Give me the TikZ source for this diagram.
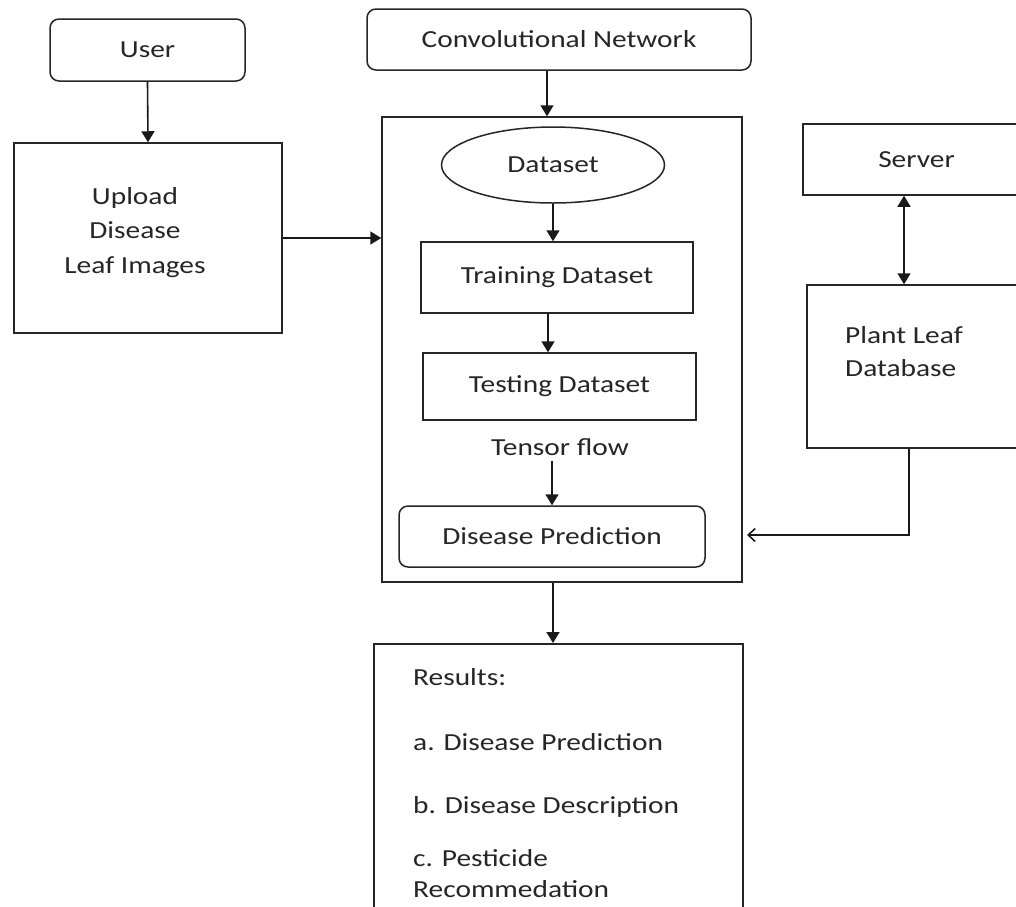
\documentclass[tikz,border=0pt]{standalone}
\usepackage{fontspec}
\setmainfont[FakeStretch=1.2]{Carlito}
\usetikzlibrary{arrows.meta,shapes.geometric}
\begin{document}
\begin{tikzpicture}[x=1pt,y=-1pt,
  every node/.style={font=\fontsize{24.5}{33}\selectfont, text=black!85},
  box/.style={draw=black!85,line width=1.5pt,inner sep=0pt,align=center},
  rbox/.style={box,rounded corners=9pt},
  txt/.style={inner sep=0pt},
  arr/.style={line width=1.6pt,draw=black!90,-{Triangle[width=13pt,length=11pt]}},
  darr/.style={line width=1.6pt,draw=black!90,{Triangle[width=13pt,length=11pt]}-{Triangle[width=13pt,length=11pt]}},
  oarr/.style={line width=1.6pt,draw=black!90,-{Straight Barb[length=7pt,width=13pt]}}]
\useasboundingbox (0,0) rectangle (1016,906);
\fill[white] (0,0) rectangle (1016,906);
\clip (0,0) rectangle (1016,906);

% left column
\node[rbox, minimum width=195pt, minimum height=62pt] (user) at (147.5,50) {User};
\node[box, minimum width=268pt, minimum height=190pt] (upload) at (148,238) {};
\node[txt,anchor=base] (up1) at (135,204) {Upload};
\node[txt,anchor=base] (up2) at (135,238) {Disease};
\node[txt,anchor=base] (up3) at (135,273) {Leaf Images};

% centre column
\node[rbox, minimum width=384pt, minimum height=61pt] (conv) at (559,39.5) {Convolutional Network};
\node[box, minimum width=360pt, minimum height=465pt] (cnn) at (562,349.5) {};
\node[draw=black!85, line width=1.5pt, ellipse, inner sep=0pt, minimum width=223pt, minimum height=76pt] (ds) at (553,165) {Dataset};
\node[box, minimum width=272pt, minimum height=71pt] (train) at (557,277.5) {Training Dataset};
\node[box, minimum width=273pt, minimum height=67pt] (test) at (559.5,386.5) {Testing Dataset};
\node[txt] (tf) at (560,447) {Tensor flow};
\node[rbox, minimum width=306pt, minimum height=61pt] (pred) at (552,536.5) {Disease Prediction};

% results
\node[box, minimum width=369pt, minimum height=330pt, anchor=north] (res) at (558.5,643) {};
\node[txt,anchor=base west] (r0) at (413,685) {Results:};
\node[txt,anchor=base west] (r1) at (413,750) {a. Disease Prediction};
\node[txt,anchor=base west] (r2) at (413,813) {b. Disease Description};
\node[txt,anchor=base west] (r3) at (413,866) {c. Pesticide};
\node[txt,anchor=base west] (r4) at (413,897) {Recommedation};

% right column
\node[box, minimum width=227pt, minimum height=71pt] (srv) at (916.5,159.5) {Server};
\node[box, minimum width=223pt, minimum height=163pt] (db) at (918.5,366.5) {};
\node[txt,anchor=base west] (db1) at (845,343) {Plant Leaf};
\node[txt,anchor=base west] (db2) at (845,376) {Database};
\coordinate (dbin) at (747,535);

% connectors
\draw[arr] (user.south) -- (upload.north);
\draw[arr] (upload.east) -- (upload.east -| cnn.west);
\draw[arr] ([xshift=-12pt]conv.south) -- ([xshift=-12pt]conv.south |- cnn.north);
\draw[arr] (ds.south) -- (ds.south |- train.north);
\draw[arr] ([xshift=-9pt]train.south) -- ([xshift=-9pt]train.south |- test.north);
\draw[arr] ([yshift=-5pt]tf.south -| pred.north) -- (pred.north);
\draw[arr] ([xshift=-9pt]cnn.south) -- ([xshift=-9pt]cnn.south |- res.north);
\draw[darr] ([xshift=-12.5pt]srv.south) -- ([xshift=-12.5pt]srv.south |- db.north);
\draw[oarr] ([xshift=-9.5pt]db.south) |- (dbin);
\end{tikzpicture}
\end{document}
